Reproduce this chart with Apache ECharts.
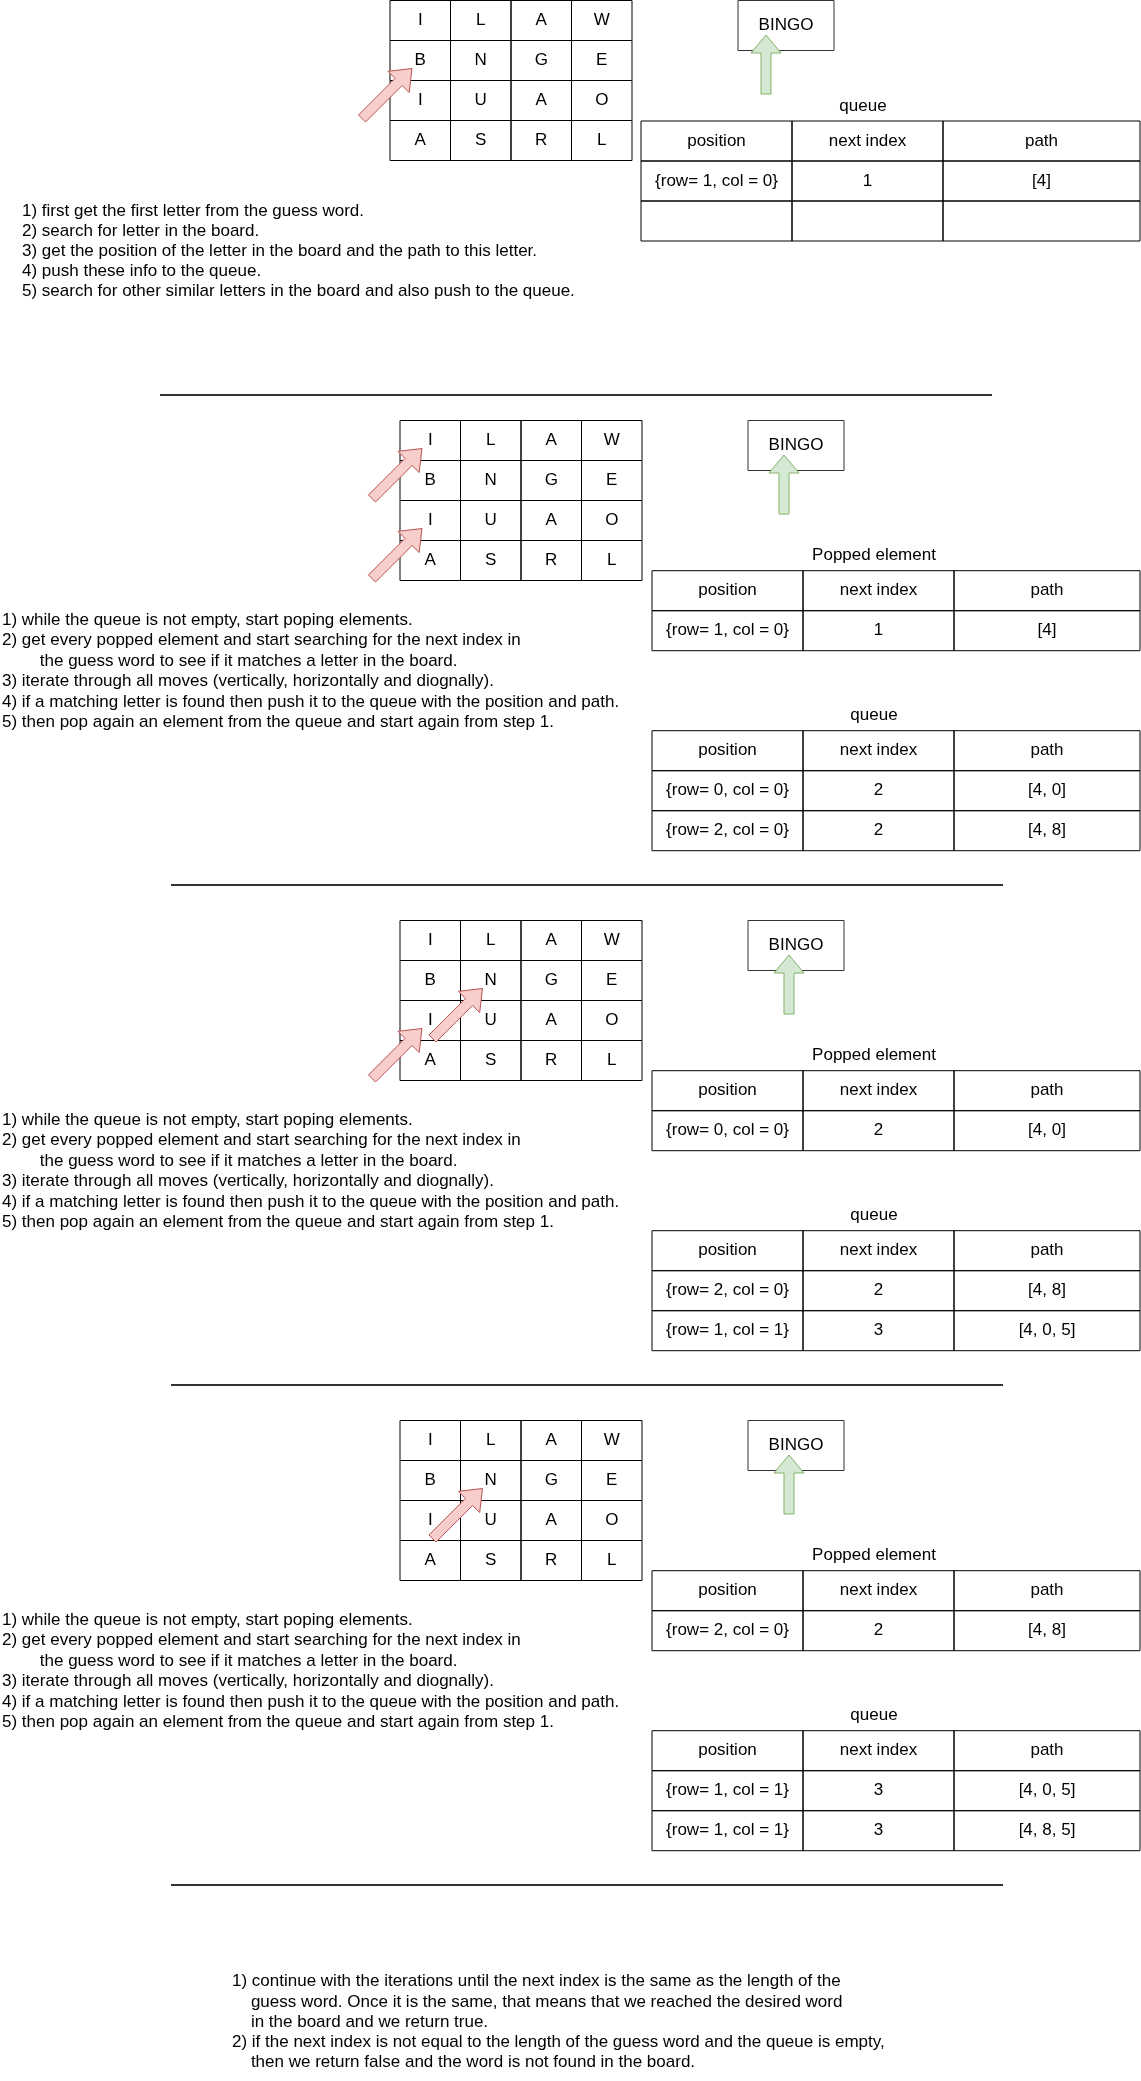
<!DOCTYPE html>
<html>
<head>
<meta charset="utf-8">
<title>Word search with a queue</title>
<script src="https://cdn.jsdelivr.net/npm/echarts/dist/echarts.min.js"></script>
<style>
  html, body { margin: 0; padding: 0; background: #fff; }
  #main { width: 1141px; height: 2081px; }
</style>
</head>
<body>
<div id="main"></div>
<script>
// ---- data ----
var board = [
    ['I', 'L', 'A', 'W'],
    ['B', 'N', 'G', 'E'],
    ['I', 'U', 'A', 'O'],
    ['A', 'S', 'R', 'L']
];
var guessWord = 'BINGO';
var headers = ['position', 'next index', 'path'];
var poppedRows = [
    null,
    ['{row= 1, col = 0}', '1', '[4]'],
    ['{row= 0, col = 0}', '2', '[4, 0]'],
    ['{row= 2, col = 0}', '2', '[4, 8]']
];
var queueRows = [
    [['{row= 1, col = 0}', '1', '[4]'], ['', '', '']],
    [['{row= 0, col = 0}', '2', '[4, 0]'], ['{row= 2, col = 0}', '2', '[4, 8]']],
    [['{row= 2, col = 0}', '2', '[4, 8]'], ['{row= 1, col = 1}', '3', '[4, 0, 5]']],
    [['{row= 1, col = 1}', '3', '[4, 0, 5]'], ['{row= 1, col = 1}', '3', '[4, 8, 5]']]
];
// board cells the red arrows point at, per step [row, col]
var pointedCells = [
    [[1, 0]],
    [[0, 0], [2, 0]],
    [[2, 0], [1, 1]],
    [[1, 1]]
];
var introSteps = [
    '1) first get the first letter from the guess word.',
    '2) search for letter in the board.',
    '3) get the position of the letter in the board and the path to this letter.',
    '4) push these info to the queue.',
    '5) search for other similar letters in the board and also push to the queue.'
];
var loopSteps = [
    '1) while the queue is not empty, start poping elements.',
    '2) get every popped element and start searching for the next index in',
    '        the guess word to see if it matches a letter in the board.',
    '3) iterate through all moves (vertically, horizontally and diognally).',
    '4) if a matching letter is found then push it to the queue with the position and path.',
    '5) then pop again an element from the queue and start again from step 1.'
];
var finalSteps = [
    '1) continue with the iterations until the next index is the same as the length of the',
    '    guess word. Once it is the same, that means that we reached the desired word',
    '    in the board and we return true.',
    '2) if the next index is not equal to the length of the guess word and the queue is empty,',
    '    then we return false and the word is not found in the board.'
];

// ---- layout ----
var W = 1141, H = 2081;
var FONT = '17px "Liberation Sans", Arial, Helvetica, sans-serif';
var secTop = [0.5, 420.5, 920.5, 1420.5];
var boardX = [390, 400, 400, 400];
var cellW = 60.5, cellH = 40;
var boxX = [738, 748, 748, 748], boxW = 96, boxH = 50;
var upArrowX = [766, 784, 789, 789];
var tableX = [641, 652, 652, 652], tableRight = 1140, colW = 151, rowH = 40;
var rules = [[160, 395, 992], [171, 885, 1003], [171, 1385, 1003], [171, 1885, 1003]];

var boardItems = [], tableItems = [], boxItems = [], labelItems = [], noteItems = [];
var redArrows = [], greenArrows = [];

function addTable(x, y, rows) {
    var xs = [x, x + colW, x + 2 * colW, tableRight];
    [headers].concat(rows).forEach(function (row, r) {
        row.forEach(function (txt, c) {
            tableItems.push({ value: [xs[c], y + r * rowH, xs[c + 1] - xs[c], rowH], text: txt });
        });
    });
}

secTop.forEach(function (top, s) {
    board.forEach(function (row, r) {
        row.forEach(function (letter, c) {
            boardItems.push({ value: [boardX[s] + c * cellW, top + r * cellH, cellW, cellH], text: letter });
        });
    });
    pointedCells[s].forEach(function (rc) {
        var tipX = boardX[s] + rc[1] * cellW + 22, tipY = top + rc[0] * cellH + 28;
        redArrows.push({ value: [tipX - 50, tipY + 50, tipX, tipY] });
    });
    boxItems.push({ value: [boxX[s], top, boxW, boxH], text: guessWord });
    greenArrows.push({ value: [upArrowX[s], top + 93.5, upArrowX[s], top + 34.5] });

    var labelX = tableX[s] + 222;
    if (s === 0) {
        labelItems.push({ value: [labelX, 106], text: 'queue' });
        addTable(tableX[s], 121, queueRows[s]);
        introSteps.forEach(function (t, i) { noteItems.push({ value: [22, 211 + i * 20], text: t }); });
    } else {
        labelItems.push({ value: [labelX, top + 135.2], text: 'Popped element' });
        addTable(tableX[s], top + 150.2, [poppedRows[s]]);
        labelItems.push({ value: [labelX, top + 295.2], text: 'queue' });
        addTable(tableX[s], top + 310.2, queueRows[s]);
        loopSteps.forEach(function (t, i) { noteItems.push({ value: [2, top + 199.5 + i * 20.5], text: t }); });
    }
});
finalSteps.forEach(function (t, i) { noteItems.push({ value: [232, 1981.7 + i * 20.2], text: t }); });

// ---- render helpers ----
function textEl(x, y, txt, align) {
    return {
        type: 'text', x: x, y: y,
        style: { text: txt, font: FONT, fill: '#000', align: align, verticalAlign: 'middle' }
    };
}

function cellRenderer(items, stroke) {
    return function (params, api) {
        var p = api.coord([api.value(0), api.value(1)]);
        var q = api.coord([api.value(0) + api.value(2), api.value(1) + api.value(3)]);
        return {
            type: 'group',
            children: [
                { type: 'rect', shape: { x: p[0], y: p[1], width: q[0] - p[0], height: q[1] - p[1] },
                  style: { fill: null, stroke: stroke, lineWidth: 1 } },
                textEl((p[0] + q[0]) / 2, (p[1] + q[1]) / 2, items[params.dataIndex].text, 'center')
            ]
        };
    };
}

function textRenderer(items, align) {
    return function (params, api) {
        var p = api.coord([api.value(0), api.value(1)]);
        return textEl(p[0], p[1], items[params.dataIndex].text, align);
    };
}

function arrowRenderer(fill, stroke, shaft, head, headLen) {
    return function (params, api) {
        var a = api.coord([api.value(0), api.value(1)]);
        var b = api.coord([api.value(2), api.value(3)]);
        var dx = b[0] - a[0], dy = b[1] - a[1];
        var len = Math.sqrt(dx * dx + dy * dy);
        var ux = dx / len, uy = dy / len, nx = -uy, ny = ux;
        var bx = b[0] - ux * headLen, by = b[1] - uy * headLen;
        var pts = [
            [a[0] + nx * shaft, a[1] + ny * shaft],
            [bx + nx * shaft, by + ny * shaft],
            [bx + nx * head, by + ny * head],
            [b[0], b[1]],
            [bx - nx * head, by - ny * head],
            [bx - nx * shaft, by - ny * shaft],
            [a[0] - nx * shaft, a[1] - ny * shaft]
        ];
        return { type: 'polygon', shape: { points: pts }, style: { fill: fill, stroke: stroke, lineWidth: 1 } };
    };
}

function ruleRenderer(params, api) {
    var p = api.coord([api.value(0), api.value(1)]);
    var q = api.coord([api.value(2), api.value(1)]);
    return { type: 'line', shape: { x1: p[0], y1: p[1], x2: q[0], y2: q[1] }, style: { stroke: '#333', lineWidth: 2 } };
}

function vals(items) { return items.map(function (d) { return d.value; }); }

function custom(name, items, render) {
    return { type: 'custom', name: name, coordinateSystem: 'cartesian2d', silent: true,
             renderItem: render, data: vals(items), animation: false };
}

var chart = echarts.init(document.getElementById('main'));
chart.setOption({
    backgroundColor: '#fff',
    animation: false,
    grid: { left: 0, right: 0, top: 0, bottom: 0 },
    xAxis: { type: 'value', min: 0, max: W, show: false },
    yAxis: { type: 'value', min: 0, max: H, inverse: true, show: false },
    series: [
        custom('rules', rules.map(function (r) { return { value: r }; }), ruleRenderer),
        custom('board', boardItems, cellRenderer(boardItems, '#000')),
        custom('tables', tableItems, cellRenderer(tableItems, '#000')),
        custom('goal', boxItems, cellRenderer(boxItems, '#333')),
        custom('labels', labelItems, textRenderer(labelItems, 'center')),
        custom('notes', noteItems, textRenderer(noteItems, 'left')),
        custom('pointers', redArrows, arrowRenderer('#f8cecc', '#b85450', 5, 15, 19)),
        custom('goalArrows', greenArrows, arrowRenderer('#d5e8d4', '#82b366', 5, 15, 18))
    ]
});
</script>
</body>
</html>
